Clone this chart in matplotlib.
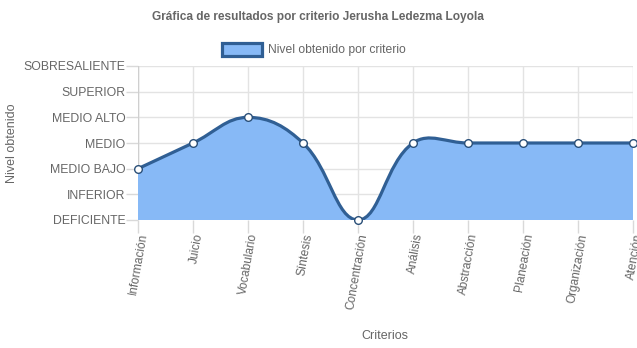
import numpy as np
import matplotlib
matplotlib.use("Agg")
import matplotlib.pyplot as plt
from matplotlib.path import Path
from matplotlib.patches import PathPatch

categories = ["Información", "Juicio", "Vocabulario", "Síntesis", "Concentración",
              "Análisis", "Abstracción", "Planeación", "Organización", "Atención"]
values = [2, 3, 4, 3, 0, 3, 3, 3, 3, 3]
levels = ["DEFICIENTE", "INFERIOR", "MEDIO BAJO", "MEDIO", "MEDIO ALTO", "SUPERIOR", "SOBRESALIENTE"]

plt.rcParams['font.family'] = ['Liberation Sans', 'DejaVu Sans']

W, H = 637, 348
fig = plt.figure(figsize=(W / 100, H / 100), dpi=100)
left, right, top, bottom = 138, 633, 66, 220
ax = fig.add_axes([left / W, (H - bottom) / H, (right - left) / W, (bottom - top) / H])

n = len(categories)
ax.set_xlim(0, n - 1)
ax.set_ylim(0, len(levels) - 1)

# Chart.js-style bezier (tension 0.4) computed in pixel space
sx = (right - left) / (n - 1)
sy = (bottom - top) / (len(levels) - 1)
px = np.arange(n) * sx
py = np.array(values, dtype=float) * sy
t = 0.4
cps = []
for i in range(n):
    prev = (px[max(i - 1, 0)], py[max(i - 1, 0)])
    cur = (px[i], py[i])
    nxt = (px[min(i + 1, n - 1)], py[min(i + 1, n - 1)])
    d01 = np.hypot(cur[0] - prev[0], cur[1] - prev[1])
    d12 = np.hypot(nxt[0] - cur[0], nxt[1] - cur[1])
    tot = d01 + d12
    s01 = d01 / tot if tot else 0
    s12 = d12 / tot if tot else 0
    fa, fb = t * s01, t * s12
    cpp = (cur[0] - fa * (nxt[0] - prev[0]), cur[1] - fa * (nxt[1] - prev[1]))
    cpn = (cur[0] + fb * (nxt[0] - prev[0]), cur[1] + fb * (nxt[1] - prev[1]))
    def cap(p):
        return (min(max(p[0], 0), px[-1]), min(max(p[1], 0), (len(levels) - 1) * sy))
    cps.append((cap(cpp), cap(cpn)))

verts = [(0, values[0])]
codes = [Path.MOVETO]
for i in range(n - 1):
    c1 = cps[i][1]
    c2 = cps[i + 1][0]
    verts += [(c1[0] / sx, c1[1] / sy), (c2[0] / sx, c2[1] / sy), (i + 1, values[i + 1])]
    codes += [Path.CURVE4] * 3
line_path = Path(verts, codes)
fill_path = Path(verts + [(n - 1, 0), (0, 0), (0, values[0])],
                 codes + [Path.LINETO, Path.LINETO, Path.CLOSEPOLY])

line_c = "#305f94"
fill_c = "#87b9f6"
ax.add_patch(PathPatch(fill_path, facecolor=fill_c, edgecolor="none", zorder=2))
ax.add_patch(PathPatch(line_path, facecolor="none", edgecolor=line_c, lw=2.3, zorder=3,
                       capstyle='round', joinstyle='round'))
ax.plot(range(n), values, linestyle="none", marker="o", ms=5.5, mfc="white",
        mec="#2a4f78", mew=1.0, zorder=4, clip_on=False)

ax.set_xticks(range(n))
ax.set_xticklabels(categories, rotation=80, ha="right", va="top", rotation_mode="anchor",
                   fontsize=8.6, color="#666666")
ax.set_yticks(range(len(levels)))
ax.set_yticklabels(levels, fontsize=8.8, color="#666666")
ax.tick_params(axis="both", length=9, color="#d9d9d9", width=1)
ax.tick_params(axis="x", pad=0)
ax.tick_params(axis="y", pad=0)
ax.grid(True, color="#e3e3e3", lw=1, zorder=0)
ax.set_axisbelow(True)
for s in ax.spines.values():
    s.set_visible(False)
ax.axvline(0, color="#cfcfcf", lw=1, zorder=1)
ax.axhline(0, color="#cfcfcf", lw=1, zorder=1)

fig.text(318 / W, 1 - 17 / H, "Gráfica de resultados por criterio Jerusha Ledezma Loyola",
         ha="center", va="center", fontsize=8.6, fontweight="bold", color="#666666")
fig.text(12 / W, 1 - 143 / H, "Nivel obtenido", rotation=90, ha="center", va="center",
         fontsize=9, color="#666666")
fig.text(385 / W, 1 - 336 / H, "Criterios", ha="center", va="center", fontsize=9,
         color="#666666")

# legend box
lx, ly, lw_, lh = 222, 43, 40, 13
fig.patches.append(plt.Rectangle((lx / W, 1 - (ly + lh) / H), lw_ / W, lh / H,
                                 transform=fig.transFigure, facecolor=fill_c,
                                 edgecolor=line_c, lw=2.3))
fig.text(268 / W, 1 - 49.5 / H, "Nivel obtenido por criterio", ha="left", va="center",
         fontsize=8.7, color="#666666")

fig.savefig("out.png", dpi=100)
